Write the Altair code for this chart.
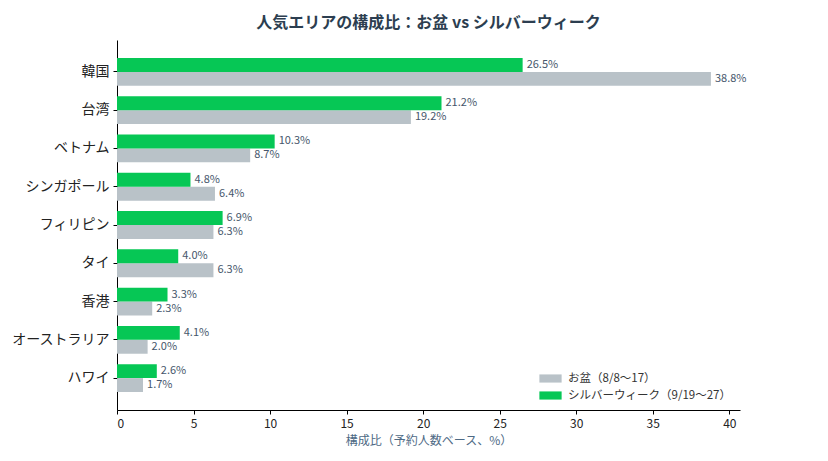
import altair as alt
import pandas as pd

areas = ['韓国', '台湾', 'ベトナム', 'シンガポール', 'フィリピン', 'タイ', '香港', 'オーストラリア', 'ハワイ']
obon = [38.8, 19.2, 8.7, 6.4, 6.3, 6.3, 2.3, 2.0, 1.7]
silver_week = [26.5, 21.2, 10.3, 4.8, 6.9, 4.0, 3.3, 4.1, 2.6]
series_names = ['お盆（8/8〜17）', 'シルバーウィーク（9/19〜27）']

font = 'Noto Sans CJK JP'

df = pd.concat([
    pd.DataFrame({'area': areas, 'period': series_names[0], 'share': obon}),
    pd.DataFrame({'area': areas, 'period': series_names[1], 'share': silver_week}),
])
df['label'] = df['share'].map(lambda v: f'{v:.1f}%')

base = alt.Chart(df).encode(
    y=alt.Y('area:N', sort=areas,
            scale=alt.Scale(paddingInner=0.273, paddingOuter=0.47),
            axis=alt.Axis(title=None, labelFont=font, labelFontSize=14, labelColor='#222',
                          domainColor='#000', tickColor='#000', tickSize=4, labelPadding=4)),
    yOffset=alt.YOffset('period:N', sort=[series_names[1], series_names[0]],
                        scale=alt.Scale(paddingInner=0, paddingOuter=0)),
)

bars = base.mark_bar().encode(
    x=alt.X('share:Q', scale=alt.Scale(domain=[0, 40.7], nice=False),
            axis=alt.Axis(title='構成比（予約人数ベース、%）', values=list(range(0, 45, 5)),
                          grid=False, labelFont=font, labelFontSize=12, labelColor='#222',
                          labelPadding=4,
                          titleFont=font, titleFontSize=12, titleColor='#4e6a85',
                          titleFontWeight='normal', titlePadding=6,
                          domainColor='#000', tickColor='#000', tickSize=4)),
    color=alt.Color('period:N', scale=alt.Scale(domain=series_names, range=['#b9c2c8', '#06c755']),
                    legend=alt.Legend(title=None, orient='none', legendX=426, legendY=331,
                                      labelFont=font, labelFontSize=11.5, labelColor='#333',
                                      labelLimit=300,
                                      symbolType='M-1.5,-0.55H1.5V0.55H-1.5Z', symbolSize=220,
                                      symbolStrokeWidth=0, labelOffset=10, rowPadding=4,
                                      padding=0)),
)

labels = base.mark_text(align='left', baseline='middle', dx=4, font=font,
                        fontSize=11, color='#45566b').encode(
    x='share:Q',
    text='label:N',
)

chart = alt.layer(bars, labels).properties(
    width=623,
    height=370,
    autosize='none',
    padding={'left': 109, 'top': 32, 'right': 80, 'bottom': 43},
    title=alt.Title('人気エリアの構成比：お盆 vs シルバーウィーク', font=font, fontSize=16,
                    fontWeight='bold', color='#2c3e50', anchor='middle', frame='group', offset=9),
).configure_view(stroke=None)

chart.save('out.html', embed_options={'renderer': 'svg', 'actions': False})
